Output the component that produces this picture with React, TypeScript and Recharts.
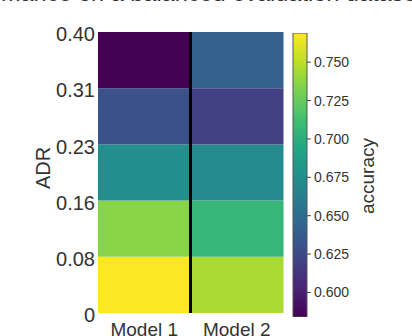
import { BarChart, Bar, XAxis, YAxis, Cell, ReferenceLine } from "recharts";

const models = ["Model 1", "Model 2"];
// ADR bin edges shown on the y axis (bottom to top)
const adrLabels = ["0", "0.08", "0.16", "0.23", "0.31", "0.40"];
// accuracy per ADR bin, bottom bin first
const model1Acc = [0.769, 0.736, 0.676, 0.63, 0.584];
const model2Acc = [0.745, 0.706, 0.671, 0.619, 0.641];
const colorbarTicks = [0.6, 0.625, 0.65, 0.675, 0.7, 0.725, 0.75];

const VIRIDIS = [
  "#440154", "#482475", "#414487", "#355f8d", "#2a788e", "#21918c",
  "#22a884", "#44bf70", "#7ad151", "#bddf26", "#fde725",
];

const hex = (h: string) => [1, 3, 5].map((i) => parseInt(h.slice(i, i + 2), 16));

function viridis(t: number) {
  const c = Math.max(0, Math.min(1, t)) * (VIRIDIS.length - 1);
  const i = Math.min(Math.floor(c), VIRIDIS.length - 2);
  const f = c - i;
  const a = hex(VIRIDIS[i]);
  const b = hex(VIRIDIS[i + 1]);
  const rgb = a.map((v, k) => Math.round(v + (b[k] - v) * f));
  return `rgb(${rgb.join(",")})`;
}

const accByModel = [model1Acc, model2Acc];
const allAcc = [...model1Acc, ...model2Acc];
const vmin = Math.min(...allAcc);
const vmax = Math.max(...allAcc);
const bins = model1Acc.map((_, i) => `bin${i}`);

const heatData = models.map((m) => {
  const row: Record<string, string | number> = { model: m };
  bins.forEach((b) => (row[b] = 1));
  return row;
});

const colorbarData = [{ k: "cb", r: [vmin, vmax] }];

const textColor = "#333";
const font = "'Liberation Sans', Arial, sans-serif";

export default function App() {
  return (
    <div
      style={{
        position: "absolute",
        left: 0,
        top: 0,
        width: 412,
        height: 336,
        overflow: "hidden",
        background: "#fff",
        fontFamily: font,
      }}
    >
      <div
        style={{
          position: "absolute",
          left: -131,
          top: -19,
          fontSize: 23.5,
          lineHeight: "24px",
          whiteSpace: "nowrap",
          color: textColor,
        }}
      >
        Model performance on a balanced evaluation dataset
      </div>

      <div style={{ position: "absolute", left: 0, top: 0 }}>
        <BarChart
          width={300}
          height={336}
          data={heatData}
          margin={{ top: 32, right: 17, bottom: 0, left: 0 }}
          barCategoryGap={0}
          barGap={0}
        >
          <XAxis
            dataKey="model"
            axisLine={false}
            tickLine={false}
            height={23}
            interval={0}
            tickMargin={4}
            tick={{ fontSize: 19, fill: textColor, fontFamily: font }}
          />
          <YAxis
            type="number"
            domain={[0, 5]}
            ticks={[0, 1, 2, 3, 4, 5]}
            allowDataOverflow
            interval={0}
            tickFormatter={(v: number) => adrLabels[v]}
            axisLine={false}
            tickLine={false}
            tickSize={0}
            tickMargin={3}
            width={98}
            tick={{ fontSize: 20, fill: textColor, fontFamily: font, dy: 2 }}
          />
          {bins.map((b, bi) => (
            <Bar key={b} dataKey={b} stackId="heat" isAnimationActive={false}>
              {models.map((m, mi) => (
                <Cell key={m} fill={viridis((accByModel[mi][bi] - vmin) / (vmax - vmin))} />
              ))}
            </Bar>
          ))}
          <ReferenceLine x="Model 2" position="start" stroke="#000" strokeWidth={3} />
        </BarChart>
      </div>

      <div style={{ position: "absolute", left: 230, top: 0 }}>
        <BarChart
          width={182}
          height={336}
          data={colorbarData}
          margin={{ top: 33, right: 45, bottom: 19, left: 63 }}
          barCategoryGap={0}
        >
          <defs>
            <linearGradient id="viridisGrad" x1="0" y1="1" x2="0" y2="0">
              {VIRIDIS.map((c, i) => (
                <stop key={c} offset={`${(i / (VIRIDIS.length - 1)) * 100}%`} stopColor={c} />
              ))}
            </linearGradient>
          </defs>
          <XAxis dataKey="k" hide />
          <YAxis
            orientation="right"
            type="number"
            domain={[vmin, vmax]}
            allowDataOverflow
            ticks={colorbarTicks}
            interval={0}
            tickFormatter={(v: number) => v.toFixed(3)}
            axisLine={false}
            tickLine={{ stroke: "#444" }}
            tickSize={4}
            tickMargin={3}
            width={60}
            tick={{ fontSize: 14, fill: textColor, fontFamily: font }}
          />
          <Bar
            dataKey="r"
            fill="url(#viridisGrad)"
            stroke="#555"
            strokeWidth={1}
            isAnimationActive={false}
          />
        </BarChart>
      </div>

      <div
        style={{
          position: "absolute",
          left: 43,
          top: 168,
          transform: "translate(-50%, -50%) rotate(-90deg)",
          fontSize: 20,
          lineHeight: 1,
          whiteSpace: "nowrap",
          color: textColor,
        }}
      >
        ADR
      </div>
      <div
        style={{
          position: "absolute",
          left: 367,
          top: 176,
          transform: "translate(-50%, -50%) rotate(-90deg)",
          fontSize: 19,
          lineHeight: 1,
          whiteSpace: "nowrap",
          color: textColor,
        }}
      >
        accuracy
      </div>
    </div>
  );
}
